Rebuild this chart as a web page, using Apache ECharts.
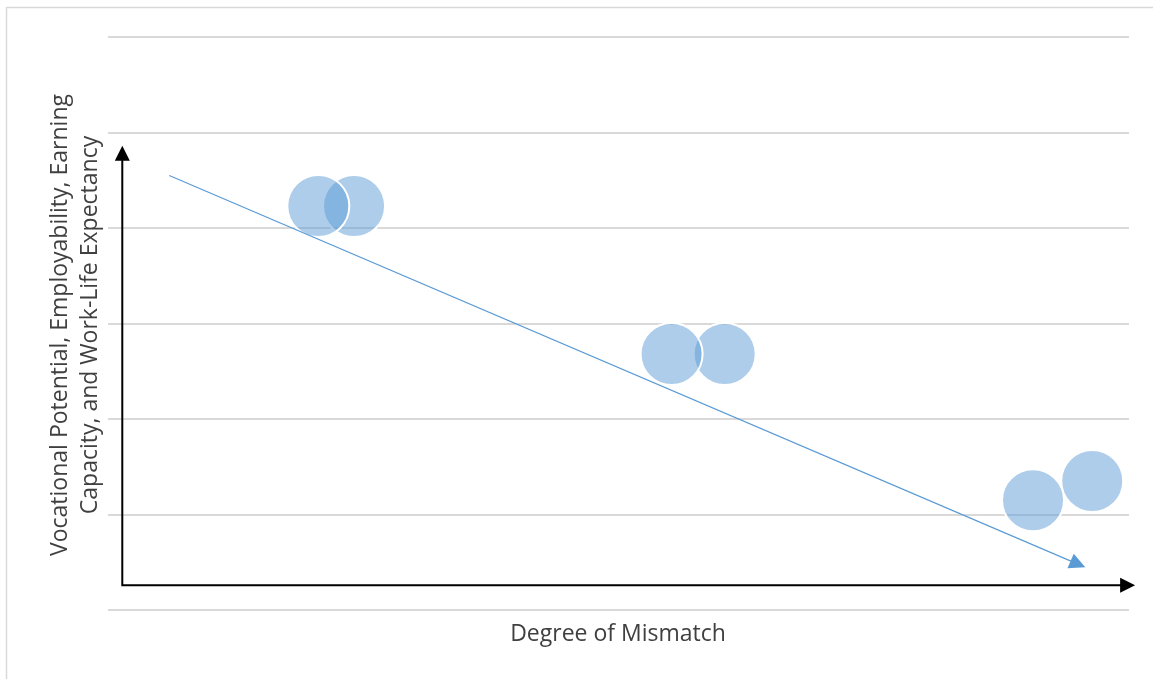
<!DOCTYPE html>
<html>
<head>
<meta charset="utf-8">
<script src="https://cdn.jsdelivr.net/npm/echarts@6/dist/echarts.min.js"></script>
<style>
  html, body { margin: 0; padding: 0; background: #fff; }
  #main { width: 1153px; height: 679px; }
</style>
</head>
<body>
<div id="main"></div>
<script>
// bubble positions (x = degree of mismatch, y = potential)
var bubbleX = [2.06, 2.41, 5.52, 6.04, 9.06, 9.64];
var bubbleY = [4.23, 4.23, 2.68, 2.68, 1.15, 1.35];
var bubbleSize = [62, 62, 62, 62, 62, 62];

// trend arrow and the hand-drawn axes, in data units
var trendFrom = [0.60, 4.55];
var trendTo = [9.50, 0.48];
var axisOrigin = [0.14, 0.26];
var axisTop = [0.14, 4.86];
var axisRight = [10.06, 0.26];

var xTitle = 'Degree of Mismatch';
var yTitle = 'Vocational Potential, Employability, Earning\nCapacity, and Work-Life Expectancy';

var myChart = echarts.init(document.getElementById('main'));

// left bubble of each pair is painted last, so build the list right to left
var points = [];
for (var i = bubbleX.length - 1; i >= 0; i--) {
    points.push([bubbleX[i], bubbleY[i], bubbleSize[i]]);
}

var textStyle = { fontFamily: 'Open Sans', fontSize: 23, fill: '#404040' };

var option = {
    backgroundColor: '#fff',
    animation: false,
    grid: {
        left: 108,
        right: 24,
        top: 37,
        bottom: 69
    },
    xAxis: {
        type: 'value',
        min: 0,
        max: 10,
        axisLine: { show: false },
        axisTick: { show: false },
        axisLabel: { show: false },
        splitLine: { show: false }
    },
    yAxis: {
        type: 'value',
        min: 0,
        max: 6,
        interval: 1,
        axisLine: { show: false },
        axisTick: { show: false },
        axisLabel: { show: false },
        splitLine: { lineStyle: { color: '#d9d9d9', width: 2 } }
    },
    series: [{
        type: 'scatter',
        data: points,
        symbolSize: function (val) { return val[2]; },
        itemStyle: {
            color: 'rgba(91,155,213,0.5)',
            opacity: 1,
            borderColor: '#fff',
            borderWidth: 2
        },
        z: 3
    }, {
        // trend arrow
        type: 'line',
        data: [],
        markLine: {
            silent: true,
            label: { show: false },
            symbol: ['none', 'triangle'],
            symbolSize: [16, 16],
            lineStyle: { color: '#5b9bd5', width: 1.2, type: 'solid' },
            data: [[{ coord: trendFrom }, { coord: trendTo }]]
        },
        z: 4
    }]
};

myChart.setOption(option);

// black axis arrows and titles, placed from data coords
var o = myChart.convertToPixel({ gridIndex: 0 }, axisOrigin);
var t = myChart.convertToPixel({ gridIndex: 0 }, axisTop);
var r = myChart.convertToPixel({ gridIndex: 0 }, axisRight);
var head = 14;

myChart.setOption({
    graphic: [{
        type: 'rect',
        shape: { x: 6.5, y: 7.5, width: 1160, height: 690 },
        style: { fill: 'none', stroke: '#d9d9d9', lineWidth: 1.5 },
        silent: true
    }, {
        type: 'polyline',
        shape: { points: [[o[0], t[1] + head], [o[0], o[1]], [r[0] - head, o[1]]] },
        style: { stroke: '#000', lineWidth: 2, fill: 'none' },
        z: 10
    }, {
        type: 'polygon',
        shape: { points: [[t[0], t[1]], [t[0] - 7.5, t[1] + head + 1], [t[0] + 7.5, t[1] + head + 1]] },
        style: { fill: '#000' },
        z: 10
    }, {
        type: 'polygon',
        shape: { points: [[r[0], r[1]], [r[0] - head - 1, r[1] - 7.5], [r[0] - head - 1, r[1] + 7.5]] },
        style: { fill: '#000' },
        z: 10
    }, {
        type: 'text',
        x: 618,
        y: 634,
        style: Object.assign({ text: xTitle, align: 'center', verticalAlign: 'middle' }, textStyle)
    }, {
        type: 'text',
        x: 75,
        y: 325,
        rotation: Math.PI / 2,
        style: Object.assign({ text: yTitle, align: 'center', verticalAlign: 'middle', lineHeight: 30 }, textStyle)
    }]
});
</script>
</body>
</html>
